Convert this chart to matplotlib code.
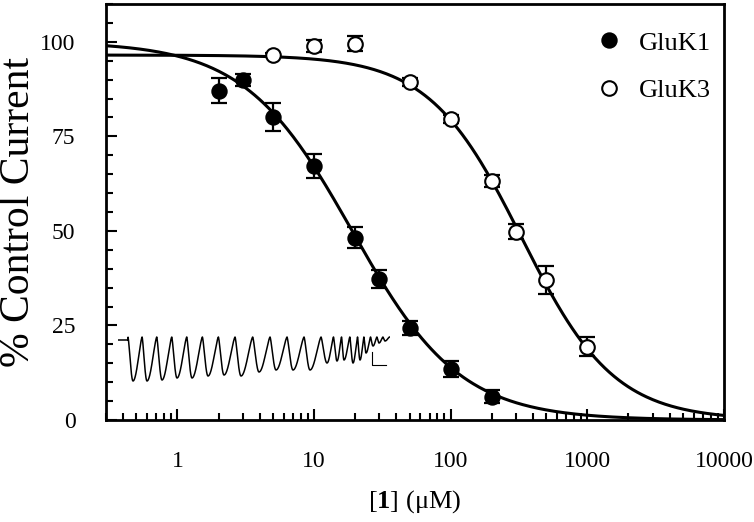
import numpy as np
import matplotlib
matplotlib.use("Agg")
import matplotlib.pyplot as plt

plt.rcParams['font.family'] = ['Liberation Serif', 'DejaVu Serif']
plt.rcParams['mathtext.fontset'] = 'custom'
plt.rcParams['mathtext.rm'] = 'Liberation Serif'
plt.rcParams['mathtext.bf'] = 'Liberation Serif:bold'

# data
gluk1_conc = [2, 3, 5, 10, 20, 30, 50, 100, 200]
gluk1_resp = [87.1, 89.9, 80.2, 67.2, 48.2, 37.2, 24.4, 13.5, 6.2]
gluk1_err = [3.4, 1.5, 3.7, 3.2, 2.8, 2.4, 1.85, 2.0, 1.7]

gluk3_conc = [5, 10, 20, 50, 100, 200, 300, 500, 1000]
gluk3_resp = [96.6, 98.9, 99.5, 89.4, 79.6, 63.2, 49.8, 37.0, 19.4]
gluk3_err = [0.5, 1.5, 2.0, 1.0, 1.0, 1.5, 2.0, 3.8, 2.6]

# Hill fit parameters (top, IC50 in uM, slope)
gluk1_fit = (100.0, 19.0, 1.1)
gluk3_fit = (96.5, 330.0, 1.28)

xticks = [1, 10, 100, 1000, 10000]
xticklabels = ['1', '10', '100', '1000', '10000']
yticks = [0, 25, 50, 75, 100]

# inset current trace: trough times (s) and depths (a.u.)
trace_t = [1.5, 2.9, 4.4, 5.9, 7.4, 9.0, 10.6, 12.3, 14.1, 15.8, 17.5, 19.2,
           20.9, 21.9, 22.6, 23.5, 24.2, 24.8, 25.5, 26.1, 26.7]
trace_d = [44, 44, 43, 41, 41, 39, 38, 39, 35, 33, 33, 33,
           26, 24, 23, 26, 23, 16, 9, 6, 4]


def hill(x, top, ic50, n):
    return top / (1 + (x / ic50) ** n)


fig = plt.figure(figsize=(7.54, 5.22), dpi=100)
ax = fig.add_axes([106 / 754, 1 - 420 / 522, 618 / 754, 416 / 522])

xx = np.logspace(np.log10(0.3), 4, 400)
ax.plot(xx, hill(xx, *gluk1_fit), color='k', lw=2.2, zorder=1)
ax.plot(xx, hill(xx, *gluk3_fit), color='k', lw=2.2, zorder=1)

ax.errorbar(gluk1_conc, gluk1_resp, yerr=gluk1_err, fmt='none', ecolor='k',
            elinewidth=1.6, capsize=5.5, capthick=1.6, zorder=2)
ax.errorbar(gluk3_conc, gluk3_resp, yerr=gluk3_err, fmt='none', ecolor='k',
            elinewidth=1.6, capsize=5.5, capthick=1.6, zorder=2)
ax.plot(gluk1_conc, gluk1_resp, 'o', ms=10.5, mfc='k', mec='k', mew=1.3,
        label='GluK1', zorder=3)
ax.plot(gluk3_conc, gluk3_resp, 'o', ms=10.5, mfc='white', mec='k', mew=1.5,
        label='GluK3', zorder=3)

ax.set_xscale('log')
ax.set_xlim(0.3, 10000)
ax.set_ylim(0, 110)
ax.set_xticks(xticks)
ax.set_xticklabels(xticklabels)
ax.xaxis.set_minor_locator(matplotlib.ticker.LogLocator(base=10, subs=np.arange(2, 10)))
ax.xaxis.set_minor_formatter(matplotlib.ticker.NullFormatter())
ax.set_yticks(yticks)
ax.yaxis.set_minor_locator(matplotlib.ticker.MultipleLocator(5))

ax.tick_params(which='both', direction='in', width=1.5, top=False, right=False,
               labelsize=17)
ax.tick_params(which='major', length=8)
ax.tick_params(which='minor', length=5)
ax.tick_params(axis='x', pad=22)
ax.tick_params(axis='y', pad=22)
for s in ax.spines.values():
    s.set_linewidth(2)

ax.set_ylabel('% Control Current', fontsize=30)
ax.yaxis.set_label_coords(-0.11, 0.5)
ax.set_xlabel('[$\\mathbf{1}$] (μM)', fontsize=19, labelpad=12)

ax.legend(loc='upper right', bbox_to_anchor=(1.005, 0.973), frameon=False,
          fontsize=19, handletextpad=0.4, labelspacing=0.9, handlelength=1.5,
          borderaxespad=0.2)

# inset trace: fast drop to each trough, slower recovery to the next onset
ins = fig.add_axes([118 / 754, 1 - 386 / 522, 272 / 754, 53 / 522])
t = np.linspace(0, 27.2, 3000)
cur = np.full_like(t, -3.0)
cur[t > trace_t[0] - 0.5] = 0.0
for i, (tc, d) in enumerate(zip(trace_t, trace_d)):
    left = 0.35 * (tc - trace_t[i - 1]) if i > 0 else 0.5
    right = 0.65 * (trace_t[i + 1] - tc) if i < len(trace_t) - 1 else 0.45
    s = t - tc
    hw = np.where(s < 0, left, right)
    inside = np.abs(s) < hw
    cur[inside] -= d * np.cos(0.5 * np.pi * s[inside] / hw[inside]) ** 1.4
ins.plot(t, cur, color='k', lw=1.1)
ins.plot([25.4, 25.4, 26.8], [-15, -28, -28], color='k', lw=0.8)
ins.set_xlim(0, 27.2)
ins.set_ylim(-49, 4)
ins.axis('off')

fig.savefig('out.png', dpi=100)
